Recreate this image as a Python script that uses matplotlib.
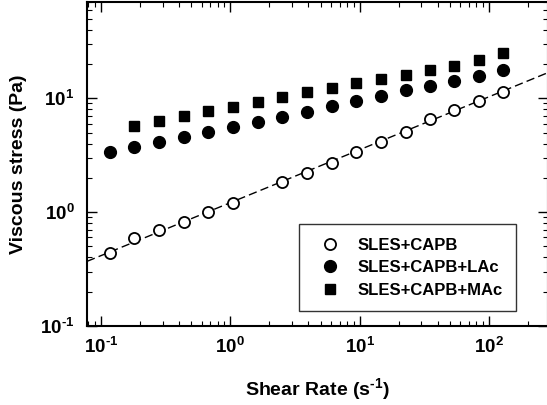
import matplotlib
matplotlib.use("Agg")
import matplotlib.pyplot as plt
from matplotlib.ticker import FuncFormatter
import numpy as np

# shear rate values (s^-1)
rate_all = [0.117, 0.181, 0.281, 0.436, 0.676, 1.05, 1.63, 2.52, 3.92, 6.08,
            9.42, 14.6, 22.7, 34.8, 54.0, 83.7, 128.5]

# SLES+CAPB (open circles), no point at 1.63
rate_capb = [0.117, 0.181, 0.281, 0.436, 0.676, 1.05, 2.52, 3.92, 6.08,
             9.42, 14.6, 22.7, 34.8, 54.0, 83.7, 128.5]
stress_capb = [0.435, 0.597, 0.697, 0.824, 0.997, 1.20, 1.85, 2.22, 2.72,
               3.36, 4.11, 5.06, 6.58, 7.89, 9.53, 11.4]

# SLES+CAPB+LAc (filled circles)
rate_lac = rate_all
stress_lac = [3.36, 3.72, 4.11, 4.61, 5.03, 5.60, 6.16, 6.89, 7.62, 8.55,
              9.53, 10.5, 11.7, 12.9, 14.3, 15.6, 17.8]

# SLES+CAPB+MAc (squares)
rate_mac = rate_all[1:]
stress_mac = [5.71, 6.35, 7.03, 7.79, 8.44, 9.27, 10.2, 11.3, 12.4, 13.7,
              14.9, 16.1, 17.8, 19.3, 21.7, 24.8]

# power-law fit for SLES+CAPB (dashed line)
fit_K = 1.21
fit_n = 0.465

labels = ["SLES+CAPB", "SLES+CAPB+LAc", "SLES+CAPB+MAc"]

plt.rcParams['font.family'] = ['Liberation Sans', 'DejaVu Sans']
plt.rcParams['font.weight'] = 'bold'
plt.rcParams['mathtext.fontset'] = 'custom'
plt.rcParams['mathtext.rm'] = 'Liberation Sans:bold'
plt.rcParams['mathtext.bf'] = 'Liberation Sans:bold'
plt.rcParams['mathtext.it'] = 'Liberation Sans:bold'


def pow10(v, pos):
    e = int(round(np.log10(v)))
    if e < 0:
        return r'$10^{\text{-}%d}$' % (-e)
    return r'$10^{%d}$' % e


fig = plt.figure(figsize=(5.47, 4.05), dpi=100)
ax = fig.add_axes([87/547, 79/405, 461/547, 324/405])

xlim = (0.078, 286)
xfit = np.logspace(np.log10(xlim[0]), np.log10(xlim[1]), 50)
ax.plot(xfit, fit_K * xfit**fit_n, color='black', lw=1, dashes=(6, 3))

ax.plot(rate_capb, stress_capb, 'o', ms=8, mfc='white', mec='black', mew=1.3,
        ls='none', label=labels[0])
ax.plot(rate_lac, stress_lac, 'o', ms=8.5, color='black', ls='none', label=labels[1])
ax.plot(rate_mac, stress_mac, 's', ms=7.5, color='black', ls='none', label=labels[2])

ax.set_xscale('log')
ax.set_yscale('log')
ax.set_xlim(*xlim)
ax.set_ylim(0.1, 70)
ax.xaxis.set_major_formatter(FuncFormatter(pow10))
ax.yaxis.set_major_formatter(FuncFormatter(pow10))

for s in ax.spines.values():
    s.set_linewidth(1.5)

ax.tick_params(which='both', direction='in', top=True, right=True, labelsize=13.5)
ax.tick_params(which='major', length=7, width=1)
ax.tick_params(which='minor', length=3.5, width=0.8)
ax.tick_params(axis='x', which='major', pad=8)
ax.tick_params(axis='y', which='major', pad=9)

ax.set_xlabel("Shear Rate (s$^{\\text{-}1}$)", fontsize=14, fontweight='bold')
ax.set_ylabel("Viscous stress (Pa)", fontsize=14, fontweight='bold')
ax.xaxis.set_label_coords(0.5, -0.154)
ax.yaxis.set_label_coords(-0.130, 0.5)

leg = ax.legend(loc='lower left', bbox_to_anchor=(0.46, 0.046), borderaxespad=0,
                fontsize=12, frameon=True, fancybox=False, edgecolor='black',
                handletextpad=0.62, labelspacing=0.45, borderpad=0.8,
                handlelength=2.1)
leg.get_frame().set_linewidth(1)

fig.savefig("out.png", dpi=100)
